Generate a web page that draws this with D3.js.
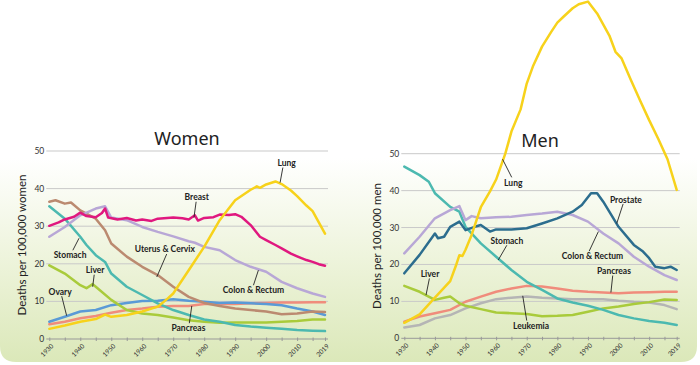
<!DOCTYPE html>
<html><head><meta charset="utf-8">
<script src="https://cdn.jsdelivr.net/npm/d3@7"></script>
<style>
html,body{margin:0;padding:0;background:#fff;}
svg{display:block;}
</style></head>
<body>
<svg id="chart" width="700" height="365"></svg>
<script>
// ---------- DATA ----------
const yearTicks = [1930,1940,1950,1960,1970,1980,1990,2000,2010,2019];
const yTicks = [0,10,20,30,40,50];

// Women [year, deaths per 100,000]
const wLung = [[1930,2.7],[1935,3.6],[1940,4.6],[1945,5.3],[1948,6.5],[1950,5.9],[1955,6.4],[1960,7.3],[1965,8.6],[1968,10.6],[1970,12.1],[1975,18.3],[1980,24.5],[1985,31.6],[1990,36.9],[1995,39.7],[1997,40.6],[1998,40.2],[2000,41.1],[2003,41.9],[2005,41.2],[2008,39.5],[2010,38],[2013,35.5],[2015,34],[2017,31],[2019,28]];
const wBreast = [[1930,30.1],[1933,31],[1935,31.8],[1938,32.5],[1940,33.6],[1942,32.7],[1945,32.4],[1947,33.5],[1948,34.7],[1949,32.3],[1952,31.8],[1955,32.2],[1958,31.5],[1960,31.8],[1963,31.4],[1965,32],[1968,32.2],[1970,32.3],[1973,32.1],[1975,31.8],[1977,32.9],[1978,31.5],[1980,32.2],[1983,32.4],[1985,33.1],[1988,33],[1990,33.2],[1992,32.5],[1995,30.3],[1998,27.2],[2000,26.3],[2003,25],[2005,24.1],[2008,22.7],[2010,22],[2013,21],[2015,20.5],[2017,19.9],[2019,19.5]];
const wColon = [[1930,27.2],[1935,29.8],[1940,32.9],[1945,34.7],[1948,35.3],[1950,32.3],[1955,31.6],[1960,29.8],[1965,28.5],[1970,27.3],[1975,26],[1977,25.6],[1980,24.5],[1985,23.6],[1990,21],[1995,19.2],[2000,17.9],[2005,15.2],[2010,13.5],[2015,12.1],[2019,11.2]];
const wUterus = [[1930,36.5],[1932,36.9],[1935,36],[1937,36.3],[1940,34.2],[1945,32],[1948,28.9],[1950,25.4],[1955,21.9],[1960,19.2],[1965,17],[1970,13.9],[1975,11.2],[1980,9.6],[1985,8.8],[1990,8.1],[1995,7.7],[2000,7.3],[2005,6.6],[2010,6.8],[2015,7.3],[2019,7.2]];
const wStomach = [[1930,35.3],[1935,32],[1940,27.2],[1942,25],[1945,22.3],[1948,20.5],[1950,17.4],[1955,13.9],[1960,11.7],[1965,9.5],[1970,7.7],[1975,6.4],[1980,5.2],[1985,4.6],[1990,3.7],[1995,3.3],[2000,3],[2005,2.7],[2010,2.4],[2015,2.2],[2019,2.1]];
const wLiver = [[1930,19.6],[1935,17.4],[1940,14.3],[1942,13.5],[1944,14.6],[1945,13.9],[1950,10.4],[1955,7.7],[1960,6.8],[1965,6.4],[1970,5.7],[1975,5],[1980,4.6],[1985,4.3],[1990,4.4],[1995,4.4],[2000,4.4],[2005,4.6],[2010,4.8],[2015,5.2],[2019,5.2]];
const wOvary = [[1930,4.6],[1935,5.9],[1940,7.3],[1945,7.7],[1950,9],[1955,9.6],[1960,10.1],[1965,10.2],[1970,10.6],[1975,10.2],[1980,9.9],[1985,9.6],[1990,9.7],[1995,9.5],[2000,9.3],[2005,9],[2010,8.1],[2015,7.3],[2019,6.4]];
const wPancreas = [[1930,3.9],[1935,4.6],[1940,5.5],[1945,6.1],[1950,7],[1955,7.7],[1960,8.1],[1965,8.6],[1970,8.8],[1975,8.8],[1980,9.3],[1985,9.3],[1990,9.3],[1995,9.5],[2000,9.6],[2005,9.7],[2010,9.7],[2015,9.8],[2019,9.8]];

// Men
const mLung = [[1930,4.2],[1935,6.5],[1940,11],[1945,15.5],[1947,20],[1948,22.5],[1949,22.3],[1950,24],[1952,28],[1955,35.5],[1958,39.8],[1960,43],[1963,50],[1965,56],[1968,62],[1970,69],[1972,73.6],[1975,79],[1978,83],[1980,85.5],[1982,87.1],[1985,89.4],[1987,90.5],[1990,91.2],[1993,88],[1997,82],[1999,77.6],[2001,75.8],[2004,70],[2007,64.5],[2010,59.1],[2013,54],[2016,48.5],[2019,40.2]];
const mStomach = [[1930,46.5],[1935,44.2],[1938,42.4],[1940,39.3],[1945,35.6],[1948,34.3],[1950,30.2],[1955,25.7],[1960,22.1],[1965,18.5],[1970,15.3],[1975,13.1],[1980,10.8],[1985,9.7],[1990,8.8],[1995,7.7],[2000,6.3],[2005,5.4],[2010,4.7],[2015,4.2],[2019,3.6]];
const mColon = [[1930,23],[1935,27.5],[1940,32.5],[1945,34.7],[1948,35.8],[1950,32],[1952,33.1],[1955,32.5],[1960,32.8],[1965,32.9],[1970,33.4],[1975,33.8],[1980,34.3],[1985,33.4],[1990,31.6],[1995,28.4],[2000,25.7],[2005,22.1],[2010,19.4],[2015,17.1],[2019,15.8]];
const mProstate = [[1930,17.6],[1935,22.6],[1940,28.4],[1941,27.1],[1943,27.5],[1945,30.2],[1948,31.6],[1950,29.3],[1953,30.2],[1955,30.7],[1958,28.9],[1960,29.5],[1965,29.5],[1970,29.8],[1975,31.1],[1980,32.5],[1985,34.3],[1988,36.1],[1991,39.3],[1993,39.3],[1995,37],[2000,30.2],[2005,25.3],[2008,23.5],[2010,21.7],[2012,19.4],[2015,19],[2017,19.4],[2019,18.5]];
const mPancreas = [[1930,4.5],[1935,5.9],[1940,6.8],[1945,7.7],[1950,9.9],[1955,11.3],[1960,12.6],[1965,13.5],[1970,14.2],[1975,14],[1980,13.5],[1985,12.9],[1990,12.6],[1995,12.4],[2000,12.2],[2005,12.4],[2010,12.5],[2015,12.6],[2019,12.6]];
const mLeukemia = [[1930,2.9],[1935,3.6],[1940,5.4],[1945,6.3],[1950,8.1],[1955,9.5],[1960,10.6],[1965,11],[1970,11.3],[1975,11],[1980,10.8],[1985,10.6],[1990,10.6],[1995,10.6],[2000,10.2],[2005,9.9],[2010,9.7],[2015,9],[2019,7.9]];
const mLiver = [[1930,14.2],[1935,12.6],[1940,10.4],[1943,11],[1945,11.3],[1948,9.5],[1950,8.8],[1955,7.9],[1960,7],[1965,6.8],[1970,6.6],[1975,6],[1980,6.1],[1985,6.3],[1990,7.2],[1995,8.1],[2000,8.6],[2005,9.3],[2010,9.8],[2015,10.5],[2019,10.4]];

// ---------- STYLE ----------
const C = {
  lung:"#f7d21b", breast:"#e0187f", colon:"#b8a7d6", uterus:"#bb8a70",
  stomach:"#4cb9b0", liver:"#a9cb3b", ovary:"#5a9ad6", pancreas:"#f08c7c",
  prostate:"#2c6d8e", leukemia:"#b5b5b5"
};

const svg = d3.select("#chart");
const defs = svg.append("defs");
const grad = defs.append("linearGradient").attr("id","bg").attr("x1",0).attr("y1",0).attr("x2",0).attr("y2",1);
grad.append("stop").attr("offset","0%").attr("stop-color","#ffffff");
grad.append("stop").attr("offset","12%").attr("stop-color","#ffffff");
grad.append("stop").attr("offset","55%").attr("stop-color","#eef4dc");
grad.append("stop").attr("offset","100%").attr("stop-color","#dbe8b9");

svg.append("path")
  .attr("d", (() => { const x0=0,x1=697,y0=130,y1=362,r=16;
     return `M${x0},${y0}H${x1}V${y1-r}Q${x1},${y1} ${x1-r},${y1}H${x0+r}Q${x0},${y1} ${x0},${y1-r}Z`; })())
  .attr("fill","url(#bg)");

function panel(cfg){
  const x = d3.scaleLinear().domain([1930,2019]).range([cfg.x0, cfg.x1]);
  const y = d3.scaleLinear().domain([0,50]).range([cfg.y0, cfg.y50]);
  const g = svg.append("g");

  g.selectAll("line.grid").data(yTicks.filter(d=>d>0)).join("line")
    .attr("x1", cfg.x0-3).attr("x2", cfg.x1+3)
    .attr("y1", d=>y(d)).attr("y2", d=>y(d))
    .attr("stroke","#c9c9c9").attr("stroke-width",1);

  g.selectAll("text.yt").data(yTicks).join("text")
    .attr("x", cfg.x0-5).attr("y", d=>y(d)).attr("dy","0.35em")
    .attr("text-anchor","end").attr("font-family","Lato, sans-serif")
    .attr("font-size",8.5).attr("fill","#333").text(d=>d);

  const xa = d3.axisBottom(x).tickValues(d3.range(1930,2020,5).concat([2019]).filter((d,i,a)=>a.indexOf(d)===i))
    .tickSize(3).tickFormat("");
  const ax = g.append("g").attr("transform",`translate(0,${cfg.y0})`).call(xa);
  ax.select(".domain").attr("stroke","#999").attr("d",`M${cfg.x0-3},0H${cfg.x1+3}`);
  ax.selectAll(".tick line").attr("stroke","#999").attr("y1",-1.5).attr("y2",2);

  g.selectAll("text.xt").data(yearTicks).join("text")
    .attr("transform", d=>`translate(${x(d)+3},${cfg.y0+6}) rotate(-45)`)
    .attr("text-anchor","end").attr("dy","0.35em")
    .attr("font-family","Lato, sans-serif").attr("font-size",6.5).attr("fill","#333")
    .text(d=>d);

  g.append("text").attr("transform",`translate(${cfg.ytx},${(cfg.y0+cfg.y50)/2}) rotate(-90)`)
    .attr("text-anchor","middle").attr("dy","0.35em")
    .attr("font-family","Lato, sans-serif").attr("font-size",11.5).attr("fill","#222")
    .text(cfg.ytitle);

  g.append("text").attr("x", cfg.tx).attr("y", cfg.ty).attr("text-anchor","middle")
    .attr("font-family","'Noto Sans', sans-serif").attr("font-size",18).attr("fill","#222")
    .text(cfg.title);

  const line = d3.line().x(d=>x(d[0])).y(d=>y(d[1]));
  g.selectAll("path.series").data(cfg.series).join("path")
    .attr("d", d=>line(d.values)).attr("fill","none")
    .attr("stroke", d=>d.color).attr("stroke-width",2.5)
    .attr("stroke-linejoin","round").attr("stroke-linecap","round");

  cfg.labels.forEach(l => {
    g.append("line").attr("x1",x(l.l1[0])).attr("y1",y(l.l1[1]))
      .attr("x2",x(l.l2[0])).attr("y2",y(l.l2[1]))
      .attr("stroke","#222").attr("stroke-width",0.9);
    g.append("text").attr("x",x(l.at[0])).attr("y",y(l.at[1])).attr("dy","0.35em")
      .attr("text-anchor","middle").attr("font-family","Lato, sans-serif")
      .attr("font-weight",700).attr("font-size",8.5).attr("fill","#222").text(l.text);
  });
}

panel({
  x0:49.3, x1:325, y0:339, y50:151, ytx:22, tx:187, ty:145,
  title:"Women", ytitle:"Deaths per 100,000 women",
  series:[
    {values:wPancreas,color:C.pancreas},{values:wOvary,color:C.ovary},
    {values:wLiver,color:C.liver},{values:wStomach,color:C.stomach},
    {values:wUterus,color:C.uterus},{values:wColon,color:C.colon},
    {values:wBreast,color:C.breast},{values:wLung,color:C.lung}
  ],
  labels:[
    {text:"Lung", at:[2006.6,46.8], l1:[2005.4,45.6], l2:[2004.5,41.6]},
    {text:"Breast", at:[1977.6,37.8], l1:[1977.4,36.5], l2:[1976.7,32.3]},
    {text:"Stomach", at:[1936.7,22.3], l1:[1937.6,23.6], l2:[1939.6,26.8]},
    {text:"Uterus & Cervix", at:[1967.3,23.9], l1:[1967.9,22.6], l2:[1964.7,16.5]},
    {text:"Liver", at:[1944.8,18.3], l1:[1944.5,17.1], l2:[1944,13.9]},
    {text:"Ovary", at:[1933.5,12.6], l1:[1934,11.4], l2:[1935.6,6.2]},
    {text:"Colon & Rectum", at:[1995.9,13], l1:[1995.9,14.3], l2:[1997.5,18.3]},
    {text:"Pancreas", at:[1974.9,3], l1:[1975.2,4.2], l2:[1976,8.8]}
  ]
});

panel({
  x0:404.3, x1:676.7, y0:338.3, y50:153.7, ytx:377, tx:540, ty:147,
  title:"Men", ytitle:"Deaths per 100,000 men",
  series:[
    {values:mLeukemia,color:C.leukemia},{values:mPancreas,color:C.pancreas},
    {values:mLiver,color:C.liver},{values:mStomach,color:C.stomach},
    {values:mColon,color:C.colon},{values:mProstate,color:C.prostate},
    {values:mLung,color:C.lung}
  ],
  labels:[
    {text:"Lung", at:[1965.6,42.1], l1:[1965.1,43.6], l2:[1962.1,48.5]},
    {text:"Prostate", at:[2002.4,37.5], l1:[2001.5,36.4], l2:[1999.4,31.1]},
    {text:"Stomach", at:[1963.5,26.4], l1:[1963.5,25.2], l2:[1960.7,21.2]},
    {text:"Colon & Rectum", at:[1991.5,22.3], l1:[1990.4,23.6], l2:[1993.4,28.9]},
    {text:"Liver", at:[1938.4,17.4], l1:[1938.2,16.2], l2:[1937.1,11.7]},
    {text:"Pancreas", at:[1998.5,18.3], l1:[1998.1,17], l2:[1997.5,12.4]},
    {text:"Leukemia", at:[1971.4,3.4], l1:[1970,4.8], l2:[1968.7,11.5]}
  ]
});
</script>
</body></html>
